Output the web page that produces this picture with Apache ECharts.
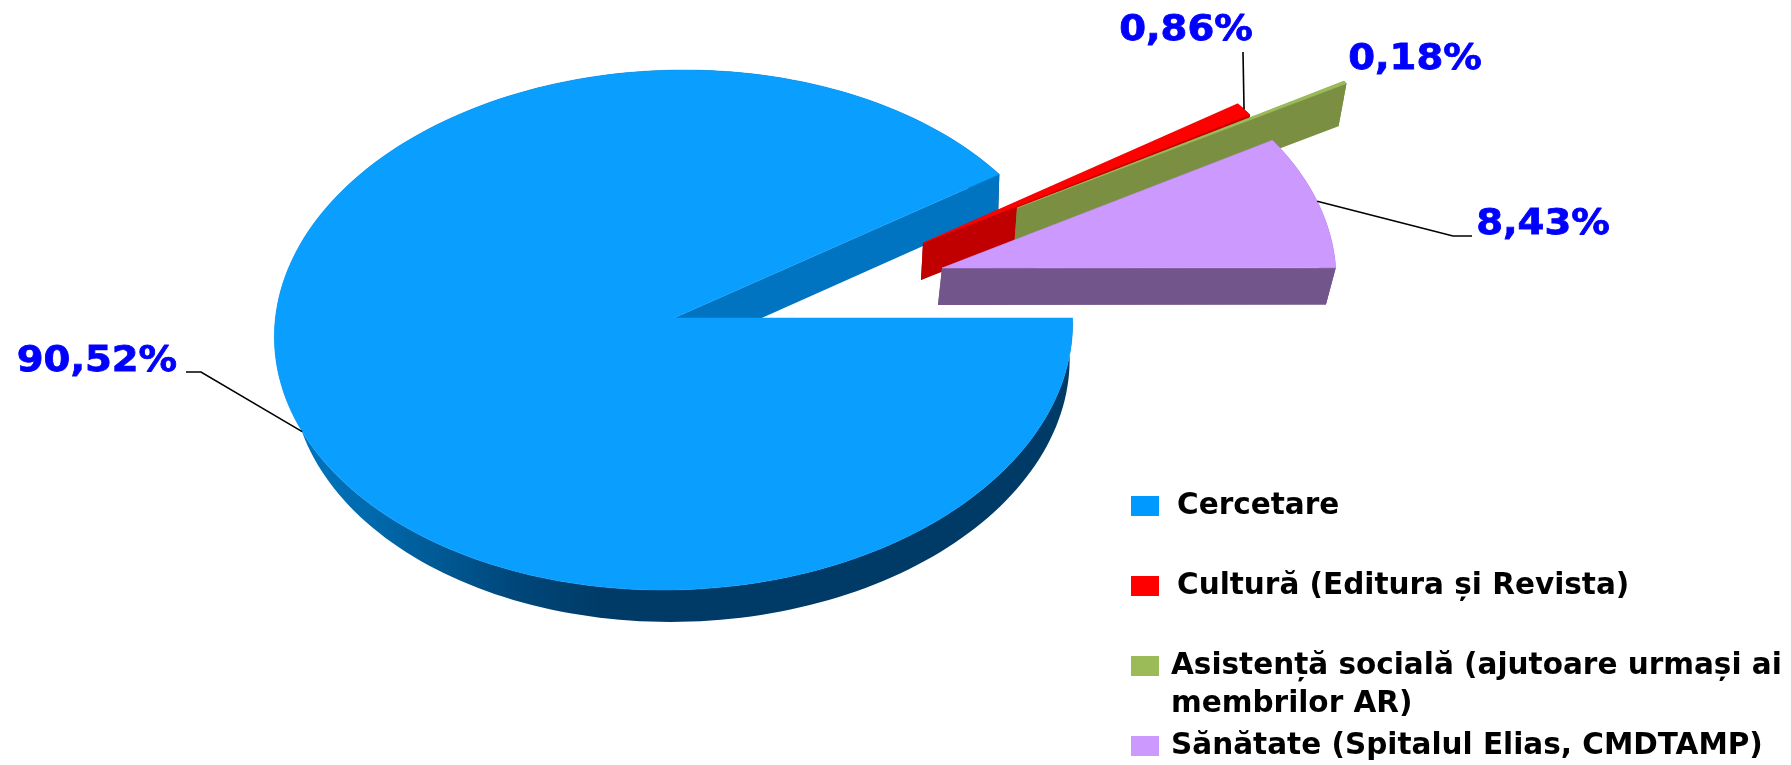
<!DOCTYPE html>
<html>
<head>
<meta charset="utf-8">
<style>html,body{margin:0;padding:0;background:#fff}#c{width:1791px;height:765px}</style>
<script src="https://cdn.jsdelivr.net/npm/echarts@6/dist/echarts.min.js"></script>
</head>
<body>
<div id="c"></div>
<script>
const categories = ['Cercetare', 'Cultură (Editura și Revista)', 'Asistență socială (ajutoare urmași ai', 'Sănătate (Spitalul Elias, CMDTAMP)'];
const legendExtraLine = ['', '', 'membrilor AR)', ''];
const shares = [90.52, 0.86, 0.18, 8.43];

const topColors = ['#0A9FFF', '#FF0000', '#9BBB59', '#CC99FF'];
const legendColors = ['#0099FF', '#FF0000', '#9BBB59', '#CC99FF'];
const wallColors = ['#0074C0', '#C00000', '#7A8F42', '#72558B'];
const apexes = [[673.5, 318], [923, 243], [1017, 208], [942, 268]];
const scalesX = [1, 0.985, 0.985, 0.988];
const scalesY = [1, 0.97, 0.96, 0.985];
const skews = [0.04, 0, 0, 0];
const tapersX = [0.975, 0.985, 0.985, 0.985];
const tapersY = [0.985, 0.985, 0.985, 0.985];
const depths = [36, 37, 41, 37];
const shifts = [7, -2, -3, -4];
const labelCenters = [[97, 362], [1186, 31], [1415, 60], [1543, 225]];
const leaderElbows = [[[201, 372], [186, 372]], [[1243, 52]], [], [[1453, 236], [1472, 236]]];
const leaderParamOffsets = [3.3, 0, 0, 0];

const RX = 399, RY = 260, APEX_V = -12, START_PARAM = 2.65;
const FONT = '"DejaVu Sans"';
const total = 100;

function rimPoints(from, to) {
  const pts = [];
  const n = Math.max(2, Math.ceil(Math.abs(to - from) / 1.5));
  for (let k = 0; k <= n; k++) {
    const a = (from + (to - from) * k / n) * Math.PI / 180;
    pts.push([RX * Math.cos(a), -RY * Math.sin(a)]);
  }
  return pts;
}
function topPt(i, p) {
  return [apexes[i][0] + scalesX[i] * (p[0] - skews[i] * p[1]), apexes[i][1] + scalesY[i] * (p[1] - APEX_V)];
}
function botPt(i, p) {
  return [apexes[i][0] + shifts[i] + scalesX[i] * tapersX[i] * (p[0] - skews[i] * p[1]),
          apexes[i][1] + depths[i] + scalesY[i] * tapersY[i] * (p[1] - APEX_V)];
}
function makeRender(i) {
  return function (params, api) {
    const val = api.value(0);
    let before = 0;
    for (let j = 0; j < i; j++) before += shares[j];
    const a0 = START_PARAM - before / total * 360;
    const a1 = a0 - val / total * 360;
    const rim = rimPoints(a0, a1);
    const center = [0, APEX_V];
    const topRim = rim.map(p => topPt(i, p));
    const botRim = rim.map(p => botPt(i, p));
    const children = [];
    const wall = (pts, fill) => children.push({ type: 'polygon', shape: { points: pts }, style: { fill: fill, stroke: null } });
    const cA = topPt(i, center), cB = botPt(i, center);
    // outer curved wall
    const outerFill = i === 0
      ? new echarts.graphic.LinearGradient(0, 0, 1, 0, [
          { offset: 0, color: '#0077C4' }, { offset: 0.12, color: '#006AAD' },
          { offset: 0.3, color: '#00477A' }, { offset: 0.42, color: '#003A66' }, { offset: 1, color: '#003A66' }])
      : wallColors[i];
    wall(topRim.concat(botRim.slice().reverse()), outerFill);
    // cut faces
    wall([cA, topRim[0], botRim[0], cB], wallColors[i]);
    wall([cA, topRim[topRim.length - 1], botRim[botRim.length - 1], cB], wallColors[i]);
    // top face
    children.push({ type: 'polygon', shape: { points: [cA].concat(topRim) }, style: { fill: topColors[i], stroke: topColors[i], lineWidth: 0.5 } });
    // leader line from the rim at the slice's mid angle
    const elbows = leaderElbows[i];
    if (elbows.length) {
      const mid = ((a0 + a1) / 2 + leaderParamOffsets[i]) * Math.PI / 180;
      const anchor = topPt(i, [RX * Math.cos(mid), -RY * Math.sin(mid)]);
      children.push({ type: 'polyline', shape: { points: [anchor].concat(elbows) }, style: { stroke: '#000', lineWidth: 1.6, fill: null } });
    }
    // value label
    children.push({
      type: 'text', x: labelCenters[i][0], y: labelCenters[i][1], scaleX: 1.07, scaleY: 1, z2: 10,
      style: { text: val.toFixed(2).replace('.', ',') + '%', x: 0, y: 0, align: 'center', verticalAlign: 'middle', fill: '#0000FF', stroke: '#0000FF', lineWidth: 0.8, font: 'bold 36px ' + FONT }
    });
    return { type: 'group', children: children };
  };
}

const legendTops = [491, 571, 651, 731];
const legendLeft = 1131;
const legendTextPad = [13, 13, 7, 7];

const option = {
  backgroundColor: '#fff',
  animation: false,
  legend: categories.map((name, i) => ({
    data: [name],
    left: legendLeft,
    top: legendTops[i],
    orient: 'vertical',
    icon: 'rect',
    itemWidth: 28,
    itemHeight: 20,
    padding: 0,
    selectedMode: false,
    textStyle: { fontFamily: FONT, fontWeight: 'bold', fontSize: 29.5, color: '#000', padding: [5, 0, 0, legendTextPad[i]] }
  })),
  series: categories.map((name, i) => ({
    type: 'custom',
    name: name,
    coordinateSystem: 'none',
    silent: true,
    itemStyle: { color: legendColors[i] },
    data: [{ name: name, value: [shares[i]] }],
    renderItem: makeRender(i)
  })),
  graphic: legendExtraLine.map((t, i) => t ? {
    type: 'text', left: 1171, top: legendTops[i] + 38,
    style: { text: t, fill: '#000', font: 'bold 29.5px ' + FONT }
  } : null).filter(Boolean)
};
echarts.init(document.getElementById('c'), null, { renderer: 'canvas' }).setOption(option);
</script>
</body>
</html>
